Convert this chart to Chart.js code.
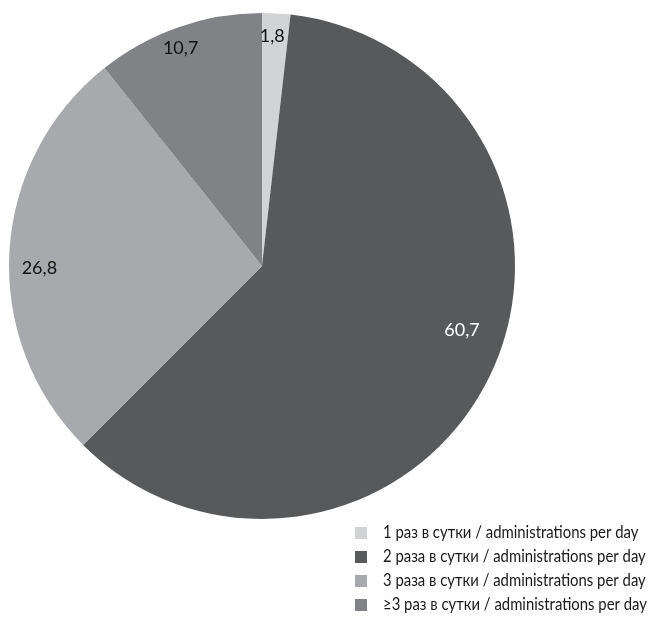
<!DOCTYPE html>
<html>
<head>
<meta charset="utf-8">
<script src="https://cdn.jsdelivr.net/npm/chart.js@4/dist/chart.umd.min.js"></script>
<style>
    html, body { margin: 0; padding: 0; background: #fff; }
    #wrap { width: 652px; height: 633px; position: relative; }
</style>
</head>
<body>
<div id="wrap"><canvas id="pieChart"></canvas></div>
<script>
    // данные
    const categories = [
        '1 раз в сутки / administrations per day',
        '2 раза в сутки / administrations per day',
        '3 раза в сутки / administrations per day',
        '≥3 раз в сутки / administrations per day'
    ];
    const shares = [1.8, 60.7, 26.8, 10.7];
    const sliceColors = ['#d1d3d4', '#58595b', '#a7a9ac', '#808285'];
    const labelColors = ['#111111', '#ffffff', '#111111', '#111111'];

    const fontFamily = 'Lato, "Open Sans", sans-serif';

    // подписи значений на секторах (небольшие сдвиги как в оригинале)
    const valueLabels = {
        id: 'valueLabels',
        afterDatasetsDraw(chart) {
            const ctx = chart.ctx;
            const meta = chart.getDatasetMeta(0);
            const radiusPart = [0.91, 0.83, 0.88, 0.92];
            const angleShift = [-0.7, -8, -3.7, -1.2]; // градусы
            ctx.save();
            ctx.font = '18px ' + fontFamily;
            ctx.textAlign = 'center';
            ctx.textBaseline = 'middle';
            meta.data.forEach((arc, i) => {
                const mid = (arc.startAngle + arc.endAngle) / 2 + angleShift[i] * Math.PI / 180;
                const r = arc.outerRadius * radiusPart[i];
                const x = arc.x + Math.cos(mid) * r;
                const y = arc.y + Math.sin(mid) * r;
                ctx.fillStyle = labelColors[i];
                ctx.fillText(String(shares[i]).replace('.', ','), x, y);
            });
            ctx.restore();
        }
    };

    // легенда справа снизу
    const sideLegend = {
        id: 'sideLegend',
        afterDraw(chart) {
            const ctx = chart.ctx;
            const textX = 383;
            const maxWidth = 264;
            ctx.save();
            ctx.font = '17px ' + fontFamily;
            ctx.textBaseline = 'middle';
            ctx.textAlign = 'left';
            const widest = Math.max(...categories.map(c => ctx.measureText(c).width));
            const squeeze = Math.min(1, maxWidth / widest);
            categories.forEach((name, i) => {
                const y = 533 + i * 24;
                ctx.fillStyle = sliceColors[i];
                ctx.fillRect(355, y - 6, 12, 12);
                ctx.save();
                ctx.translate(textX, y);
                ctx.scale(squeeze, 1);
                ctx.fillStyle = '#1a1718';
                ctx.fillText(name, 0, 0);
                ctx.restore();
            });
            ctx.restore();
        }
    };

    new Chart(document.getElementById('pieChart'), {
        type: 'pie',
        data: {
            labels: categories,
            datasets: [{
                data: shares,
                backgroundColor: sliceColors,
                borderWidth: 0
            }]
        },
        options: {
            responsive: true,
            maintainAspectRatio: false,
            animation: false,
            layout: { padding: { left: 9, top: 13, right: 137, bottom: 114 } },
            plugins: {
                legend: { display: false },
                tooltip: { enabled: false }
            }
        },
        plugins: [valueLabels, sideLegend]
    });
</script>
</body>
</html>
